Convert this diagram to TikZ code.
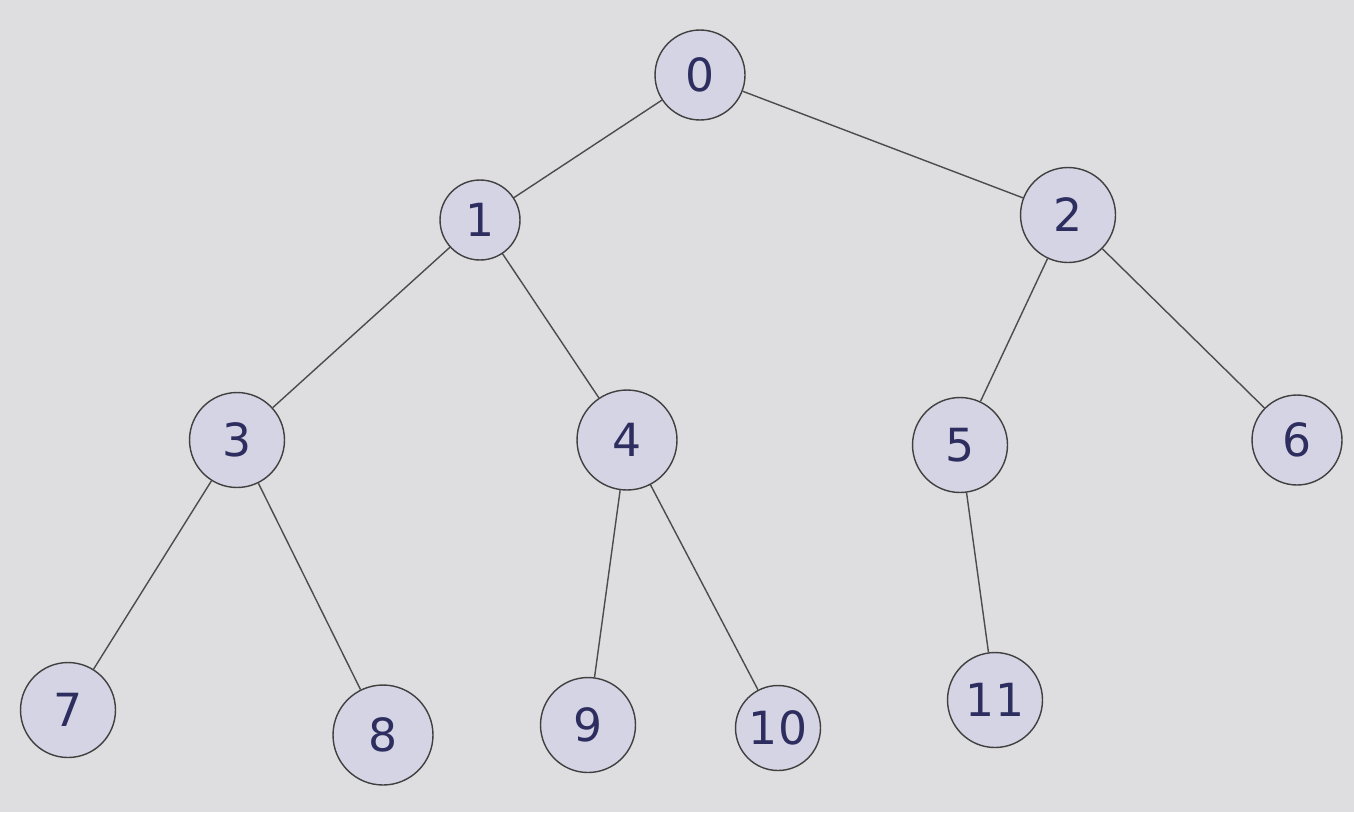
\documentclass[tikz,border=0pt]{standalone}
\usepackage{fontspec}
\setmainfont{DejaVu Sans}
\definecolor{paper}{RGB}{222,222,224}
\definecolor{ink}{RGB}{45,45,95}
\definecolor{disc}{RGB}{212,212,228}
\tikzset{
  knot/.style={circle, draw=black!75, thick, fill=disc, text=ink, inner sep=0pt,
    font=\fontsize{26}{30}\selectfont},
  branch/.style={draw=black!70, thick}
}
\begin{document}
\begin{tikzpicture}[x=0.02cm, y=-0.02cm]
        \fill[paper] (0,0) rectangle (1354,812);
        \useasboundingbox (0,0) rectangle (1354,812);
        % root and first level
        \node[knot, minimum size=1.8cm] (n0) at (700,75) {0};
        \node[knot, minimum size=1.6cm] (n1) at (480,220) {1};
        \node[knot, minimum size=1.9cm] (n2) at (1068,215) {2};
        % second level
        \node[knot, minimum size=1.9cm] (n3) at (237,440) {3};
        \node[knot, minimum size=2.0cm] (n4) at (627,440) {4};
        \node[knot, minimum size=1.9cm] (n5) at (960,445) {5};
        \node[knot, minimum size=1.8cm] (n6) at (1297,440) {6};
        % leaves
        \node[knot, minimum size=1.9cm] (n7) at (68,710) {7};
        \node[knot, minimum size=2.0cm] (n8) at (383,735) {8};
        \node[knot, minimum size=1.9cm] (n9) at (588,725) {9};
        \node[knot, minimum size=1.7cm] (n10) at (778,728) {10};
        \node[knot, minimum size=1.9cm] (n11) at (995,700) {11};
        % edges
        \draw[branch] (n0) -- (n1);
        \draw[branch] (n0) -- (n2);
        \draw[branch] (n1) -- (n3);
        \draw[branch] (n1) -- (n4);
        \draw[branch] (n2) -- (n5);
        \draw[branch] (n2) -- (n6);
        \draw[branch] (n3) -- (n7);
        \draw[branch] (n3) -- (n8);
        \draw[branch] (n4) -- (n9);
        \draw[branch] (n4) -- (n10);
        \draw[branch] (n5) -- (n11);
    \end{tikzpicture}
\end{document}
